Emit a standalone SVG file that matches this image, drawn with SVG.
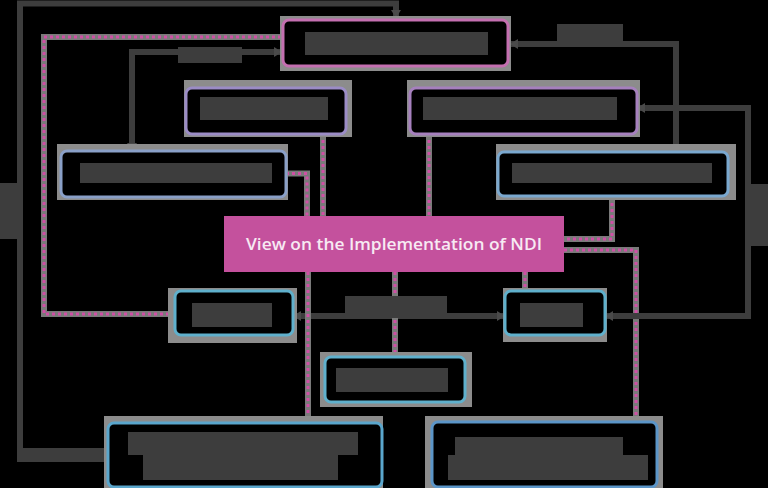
<svg xmlns="http://www.w3.org/2000/svg" width="768" height="488" viewBox="0 0 768 488">
  <defs>
    <marker id="arr" markerUnits="userSpaceOnUse" markerWidth="8" markerHeight="10" refX="7" refY="5" orient="auto-start-reverse">
      <path d="M0,0 L8,5 L0,10 z" fill="#4a4a4a"/>
    </marker>
    <style>
      .dark { fill: none; stroke: #3d3d3d; stroke-width: 6; marker-start: url(#arr); marker-end: url(#arr); }
      .pinkbg { fill: none; stroke: #7a7a7a; stroke-width: 6; }
      .pink { fill: none; stroke: #d04fa5; stroke-width: 3; stroke-dasharray: 3 3; }
      .lbl { fill: #3d3d3d; }
      .halo { fill: #8c8c8c; }
      .box { fill: #000; stroke-width: 3; }
      .blk { fill: #3d3d3d; }
      .title { font-family: "Open Sans", "Noto Sans", sans-serif; font-size: 17px; font-weight: 600; fill: #f7eaf3; }
    </style>
  </defs>
  <rect x="0" y="0" width="768" height="488" fill="#000"/>

  <g id="connectors">
    <path class="pinkbg" d="M175,314 H44 V37 H283"/>
    <path class="pink" d="M175,314 H44 V37 H283"/>
    <path class="pinkbg" d="M286,173.5 H307 V216"/>
    <path class="pink" d="M286,173.5 H307 V216"/>
    <path class="pinkbg" d="M323,134 V216"/>
    <path class="pink" d="M323,134 V216"/>
    <path class="pinkbg" d="M429,134 V216"/>
    <path class="pink" d="M429,134 V216"/>
    <path class="pinkbg" d="M612,197 V239 H564"/>
    <path class="pink" d="M612,197 V239 H564"/>
    <path class="pinkbg" d="M564,250 H636 V422"/>
    <path class="pink" d="M564,250 H636 V422"/>
    <path class="pinkbg" d="M525,272 V291"/>
    <path class="pink" d="M525,272 V291"/>

    <path class="dark" d="M396,17 V3.5 H20 V455 H106"/>
    <path class="dark" d="M132,150 V52 H281"/>
    <path class="dark" d="M511,44 H676 V151"/>
    <path class="dark" d="M638,108 H748 V316 H606"/>
    <path class="dark" d="M294,316 H504"/>

    <path class="pinkbg" d="M308,272 V423"/>
    <path class="pink" d="M308,272 V423"/>
    <path class="pinkbg" d="M395,272 V357"/>
    <path class="pink" d="M395,272 V357"/>

    <rect class="lbl" x="17" y="448" width="89" height="14"/>
    <rect class="lbl" x="0" y="183" width="20" height="56"/>
    <rect class="lbl" x="178" y="47" width="64" height="16"/>
    <rect class="lbl" x="557" y="24" width="66" height="22"/>
    <rect class="lbl" x="745" y="184" width="23" height="62"/>
    <rect class="lbl" x="345" y="296" width="102" height="22"/>
  </g>

  <g id="node-top">
    <rect class="halo" x="280" y="16" width="231" height="55"/>
    <rect class="box" x="283" y="20" width="225" height="46" rx="6" stroke="#c46fb0"/>
    <rect class="blk" x="305" y="32" width="183" height="23"/>
  </g>

  <g id="node-lavender">
    <rect class="halo" x="184" y="80" width="168" height="57"/>
    <rect class="box" x="186" y="88" width="160" height="46" rx="6" stroke="#9b8cc6"/>
    <rect class="blk" x="200" y="97" width="128" height="23"/>
  </g>

  <g id="node-purple">
    <rect class="halo" x="407" y="80" width="233" height="57"/>
    <rect class="box" x="410" y="88" width="227" height="46" rx="6" stroke="#a680be"/>
    <rect class="blk" x="423" y="97" width="194" height="23"/>
  </g>

  <g id="node-left-mid">
    <rect class="halo" x="57" y="144" width="231" height="56"/>
    <rect class="box" x="61" y="151" width="225" height="46" rx="6" stroke="#8aa0c8"/>
    <rect class="blk" x="80" y="163" width="192" height="20"/>
  </g>

  <g id="node-right-mid">
    <rect class="halo" x="496" y="144" width="240" height="56"/>
    <rect class="box" x="498" y="152" width="230" height="44" rx="6" stroke="#7aa8cf"/>
    <rect class="blk" x="512" y="163" width="200" height="20"/>
  </g>

  <g id="node-center">
    <rect x="224" y="216" width="340" height="56" fill="#c4519d"/>
    <text class="title" x="246" y="250" textLength="296" lengthAdjust="spacingAndGlyphs">View on the Implementation of NDI</text>
  </g>

  <g id="node-left-small">
    <rect class="halo" x="168" y="288" width="129" height="55"/>
    <rect class="box" x="175" y="291" width="118" height="44" rx="6" stroke="#5fb0cc"/>
    <rect class="blk" x="192" y="303" width="80" height="24"/>
  </g>

  <g id="node-right-small">
    <rect class="halo" x="503" y="288" width="104" height="54"/>
    <rect class="box" x="505" y="291" width="100" height="44" rx="6" stroke="#5fb0cc"/>
    <rect class="blk" x="520" y="303" width="63" height="24"/>
  </g>

  <g id="node-bottom-center">
    <rect class="halo" x="320" y="352" width="152" height="55"/>
    <rect class="box" x="325" y="357" width="140" height="45" rx="6" stroke="#5fb0cc"/>
    <rect class="blk" x="336" y="368" width="112" height="24"/>
  </g>

  <g id="node-bottom-left">
    <rect class="halo" x="104" y="416" width="279" height="72"/>
    <rect class="box" x="108" y="423" width="274" height="64" rx="6" stroke="#5aa6cc"/>
    <rect class="blk" x="128" y="432" width="230" height="23"/>
    <rect class="blk" x="143" y="455" width="195" height="25"/>
  </g>

  <g id="node-bottom-right">
    <rect class="halo" x="425" y="416" width="238" height="72"/>
    <rect class="box" x="432" y="422" width="225" height="65" rx="6" stroke="#5b95c8"/>
    <rect class="blk" x="455" y="437" width="168" height="18"/>
    <rect class="blk" x="448" y="455" width="200" height="25"/>
  </g>
</svg>
